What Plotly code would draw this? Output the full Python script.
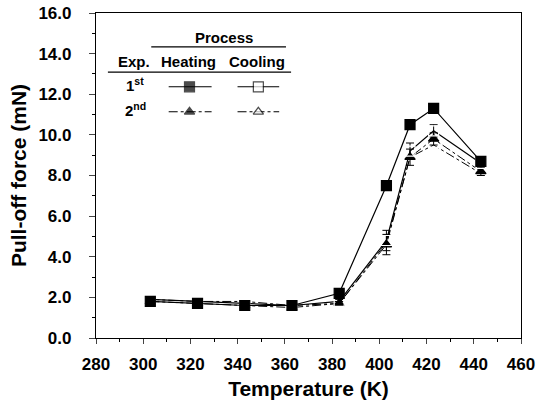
import plotly.graph_objects as go

temps = [303, 323, 343, 363, 383, 403, 413, 423, 443]
heat1 = [1.8, 1.7, 1.6, 1.6, 2.2, 7.5, 10.5, 11.3, 8.7]
cool1 = [1.9, 1.8, 1.7, 1.6, 1.8, 4.8, 9.2, 10.2, 8.6]
heat2 = [1.8, 1.7, 1.6, 1.5, 1.7, 4.6, 8.9, 9.8, 8.2]
cool2 = [1.9, 1.8, 1.8, 1.6, 1.7, 4.7, 8.9, 9.5, 8.1]
err_cool1 = [0.1, 0.1, 0.1, 0.1, 0.1, 0.5, 0.4, 0.3, 0.1]
err_heat2 = [0.1, 0.1, 0.1, 0.1, 0.1, 0.5, 0.4, 0.3, 0.2]

FONT = "Liberation Sans, Arial, sans-serif"
fig = go.Figure()

def add(y, sym, dash, err=None, size=8, width=1.2):
    fig.add_trace(go.Scatter(
        x=temps, y=y, mode="lines+markers",
        line=dict(color="black", width=width, dash=dash),
        marker=dict(symbol=sym, size=size, color="black" if "open" not in sym else "white",
                    line=dict(color="black", width=1.2)),
        error_y=dict(type="data", array=err, visible=True, color="black",
                     thickness=1, width=4) if err else None,
        showlegend=False, cliponaxis=False))

add(cool2, "triangle-up-open", "dashdot", size=9, width=1)
add(heat2, "triangle-up", "dashdot", err_heat2, size=9, width=1)
add(cool1, "square-open", "solid", err_cool1, size=10)
add(heat1, "square", "solid", size=10)

# legend table samples (on auxiliary axes in 0..1 coordinates)
lx_h = [0.171, 0.22, 0.272]
lx_c = [0.333, 0.382, 0.431]
ly1, ly2 = 0.773, 0.696
for lx, sym, fill, dash, ly, sz in [
    (lx_h, "square", "black", "solid", ly1, 10),
    (lx_c, "square", "white", "solid", ly1, 10),
    (lx_h, "triangle-up", "black", "dashdot", ly2, 9),
    (lx_c, "triangle-up", "white", "dashdot", ly2, 9),
]:
    fig.add_trace(go.Scatter(
        x=lx, y=[ly] * 3, xaxis="x2", yaxis="y2", mode="lines+markers",
        line=dict(color="black", width=1.1, dash=dash),
        marker=dict(symbol=sym, size=[0, sz, 0], color=fill, line=dict(color="black", width=1.2)),
        showlegend=False, hoverinfo="skip"))

ann = [
    ("Process", 0.300, 0.926),
    ("Exp.", 0.089, 0.852),
    ("Heating", 0.218, 0.852),
    ("Cooling", 0.379, 0.852),
    ("1<sup>st</sup>", 0.092, ly1 + 0.006),
    ("2<sup>nd</sup>", 0.092, ly2 + 0.006),
]
annotations = [dict(text=t, x=x, y=y, xref="x2 domain", yref="y2 domain", showarrow=False,
                    font=dict(family=FONT, size=15, color="black", weight="bold"),
                    xanchor="center", yanchor="middle") for t, x, y in ann]

shapes = [
    dict(type="line", xref="x2 domain", yref="y2 domain", x0=0.130, x1=0.447, y0=0.896, y1=0.896,
         line=dict(color="black", width=1.3)),
    dict(type="line", xref="x2 domain", yref="y2 domain", x0=0.028, x1=0.459, y0=0.818, y1=0.818,
         line=dict(color="black", width=1.3)),
]

fig.update_layout(
    width=537, height=410,
    margin=dict(l=96, r=16, t=13, b=72),
    plot_bgcolor="white", paper_bgcolor="white",
    font=dict(family=FONT, color="black"),
    xaxis=dict(range=[280, 460], dtick=20, tick0=280, ticks="outside", ticklen=5, tickwidth=1,
               minor=dict(dtick=10, ticks="outside", ticklen=3, tickcolor="black"),
               showline=True, linecolor="black", linewidth=1.2, mirror=True, showgrid=False,
               zeroline=False, tickfont=dict(size=17, family=FONT, weight="bold"),
               ticklabelstandoff=5, automargin=False,
               title=dict(text="Temperature (K)", font=dict(size=21, family=FONT, weight="bold"),
                          standoff=8)),
    yaxis=dict(range=[0, 16], dtick=2, tickformat=".1f", ticks="outside", ticklen=6, tickwidth=1,
               minor=dict(dtick=1, ticks="outside", ticklen=3, tickcolor="black"),
               showline=True, linecolor="black", linewidth=1.2, mirror=True, showgrid=False,
               zeroline=False, tickfont=dict(size=17, family=FONT, weight="bold"),
               ticklabelstandoff=14, automargin=False,
               title=dict(text="Pull-off force (mN)", font=dict(size=21, family=FONT, weight="bold"),
                          standoff=6)),
    xaxis2=dict(range=[0, 1], overlaying="x", visible=False),
    yaxis2=dict(range=[0, 1], overlaying="y", visible=False),
    annotations=annotations,
    shapes=shapes,
)

fig.write_html("out.html", config={"displayModeBar": False},
               post_script="document.body.style.margin='0';")
